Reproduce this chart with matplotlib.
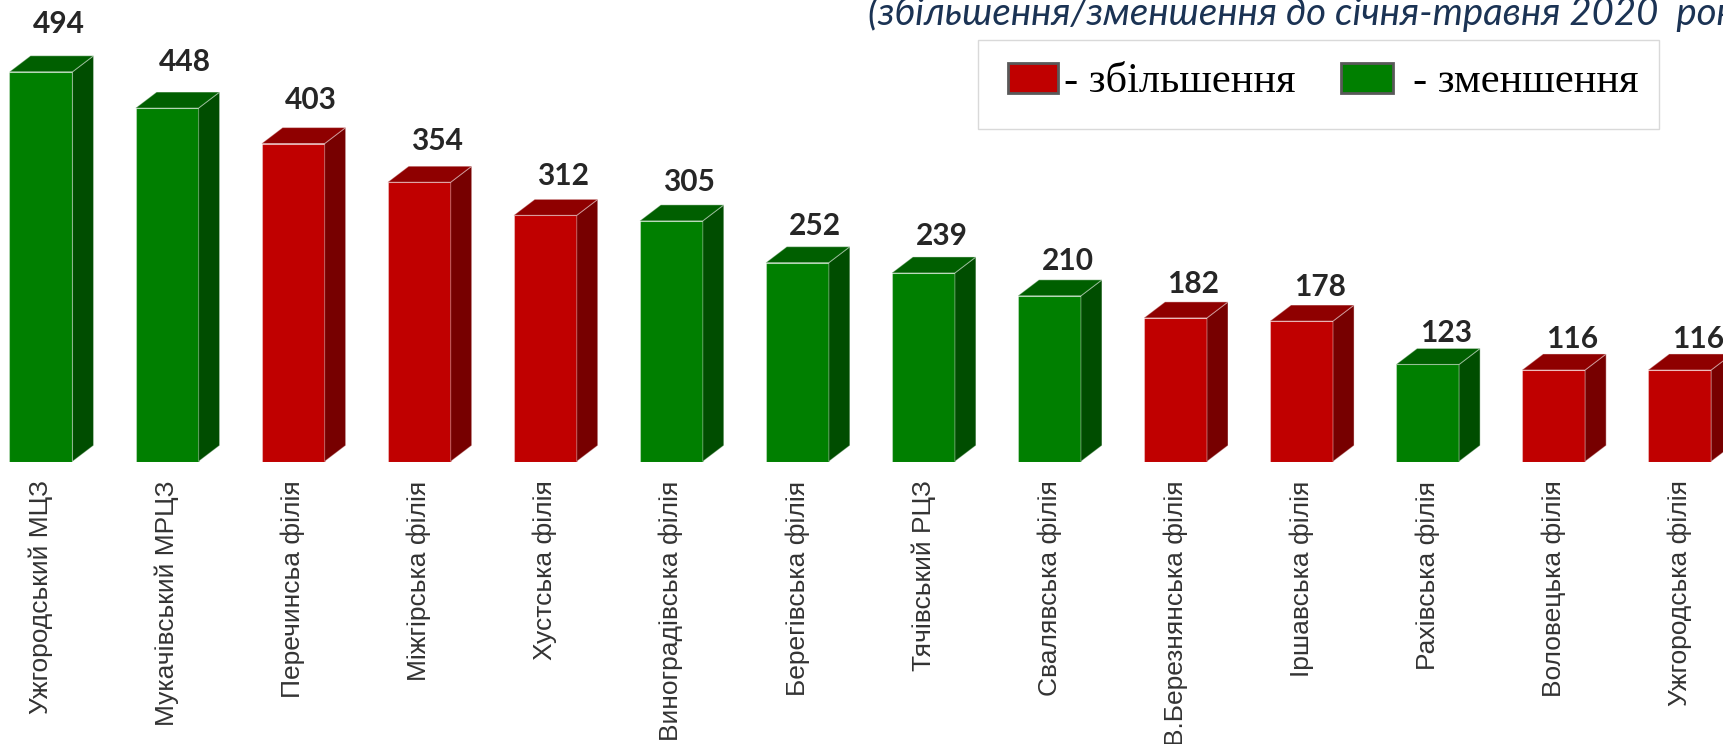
import matplotlib.pyplot as plt
from matplotlib.patches import Polygon, Rectangle

# підписи категорій і значення
names = ["Ужгородський МЦЗ", "Мукачівський МРЦЗ", "Перечинсьа філія", "Міжгірська філія",
         "Хустська філія", "Виноградівська філія", "Берегівська філія", "Тячівський РЦЗ",
         "Свалявська філія", "В.Березнянська філія", "Іршавська філія", "Рахівська філія",
         "Воловецька філія", "Ужгородська філія"]
values = [494, 448, 403, 354, 312, 305, 252, 239, 210, 182, 178, 123, 116, 116]
# True - збільшення (червоний), False - зменшення (зелений)
growth = [False, False, True, True, True, False, False, False, False, True, True, False, True, True]

title = "(збільшення/зменшення до січня-травня 2020  року)"

red = {"front": "#c00000", "top": "#8f0000", "side": "#770000"}
green = {"front": "#007f00", "top": "#005f00", "side": "#004d00"}

W, H = 1723, 744
fig = plt.figure(figsize=(W / 100, H / 100), dpi=100)
base_px = 282.5  # нижня грань стовпців від низу картинки
ax = fig.add_axes([0, base_px / H, 1, 1 - base_px / H])
ax.set_xlim(-0.325, 13.344)
ax.set_ylim(0, 585)
ax.axis("off")

bw = 0.5      # ширина стовпця
dx = 0.167    # глибина по x
dy = 20.3     # глибина по y
edge = (1, 1, 1, 0.35)

for i, (v, up) in enumerate(zip(values, growth)):
    c = red if up else green
    ax.bar(i, v, width=bw, color=c["front"], edgecolor=edge, linewidth=0.8)
    r = i + bw / 2
    l = i - bw / 2
    ax.add_patch(Polygon([(r, 0), (r + dx, dy), (r + dx, v + dy), (r, v)],
                         closed=True, facecolor=c["side"], edgecolor=edge, linewidth=0.8))
    ax.add_patch(Polygon([(l, v), (r, v), (r + dx, v + dy), (l + dx, v + dy)],
                         closed=True, facecolor=c["top"], edgecolor=edge, linewidth=0.8))
    ax.text(i + 0.143, v * 1.0558 + 21.5, str(v), ha="center", va="baseline",
            fontsize=21.5, fontweight="bold", family="Lato", color="#262626")

# підписи під стовпцями
for i, name in enumerate(names):
    ax.annotate(name, xy=(i, 0), xytext=(0, -19), textcoords="offset pixels",
                rotation=90, ha="center", va="top", fontsize=19,
                family="Liberation Sans", color="#333333", annotation_clip=False)

# заголовок (обрізаний краєм)
fig.text(868 / W, 1 - 25 / H, title, ha="left", va="baseline", fontsize=27.6,
         style="italic", family="Lato", color="#1b3354")

# легенда
def box(x0, y0, x1, y1, **kw):
    return Rectangle((x0 / W, 1 - y1 / H), (x1 - x0) / W, (y1 - y0) / H,
                     transform=fig.transFigure, **kw)

fig.patches.append(box(978, 40, 1659, 129, facecolor="white", edgecolor="#d9d9d9", linewidth=1))
fig.patches.append(box(1008, 63, 1058, 93, facecolor=red["front"], edgecolor="#595959", linewidth=2))
fig.patches.append(box(1341, 63, 1393, 93, facecolor=green["front"], edgecolor="#595959", linewidth=2))
fig.text(1064 / W, 1 - 92 / H, "- збільшення", ha="left", va="baseline", fontsize=30.5,
         family="Liberation Serif", color="black")
fig.text(1413 / W, 1 - 92 / H, "- зменшення", ha="left", va="baseline", fontsize=30.5,
         family="Liberation Serif", color="black")

fig.savefig("out.png", dpi=100)
